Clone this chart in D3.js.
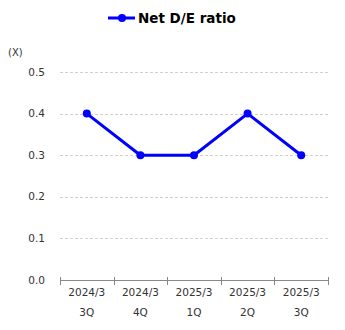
<!DOCTYPE html>
<html><head><meta charset="utf-8">
<script src="https://cdn.jsdelivr.net/npm/d3@7"></script>
<style>body{margin:0;background:#fff}svg{display:block}</style>
</head><body>
<script>
const categoriesTop = ["2024/3","2024/3","2025/3","2025/3","2025/3"];
const categoriesBottom = ["3Q","4Q","1Q","2Q","3Q"];
const netDE = [0.4,0.3,0.3,0.4,0.3];
const yTicks = [0,0.1,0.2,0.3,0.4,0.5];
const seriesName = "Net D/E ratio";
const unitLabel = "(X)";

(function(){
const W=345,H=330;
const svg=d3.select("body").append("svg").attr("width",W).attr("height",H);
const font="DejaVu Sans, Verdana, sans-serif";
const pL=60,pR=328,pT=72,pB=280;
const idx=d3.range(netDE.length);
const x=d3.scaleBand().domain(idx).range([pL,pR]);
const y=d3.scaleLinear().domain([0,0.5]).range([pB,pT]);

svg.append("g").selectAll("line").data(yTicks.filter(d=>d>0)).join("line")
  .attr("x1",pL).attr("x2",pR).attr("y1",d=>Math.round(y(d))+0.5).attr("y2",d=>Math.round(y(d))+0.5)
  .attr("stroke","#d0d0d0").attr("stroke-dasharray","3,2").attr("stroke-width",1);

svg.append("g").selectAll("text").data(yTicks).join("text")
  .attr("x",45).attr("y",d=>y(d)).attr("dy","0.35em").attr("text-anchor","end")
  .attr("font-family",font).attr("font-size","10.5px").attr("fill","#333")
  .text(d=>d.toFixed(1));
svg.append("text").attr("x",8).attr("y",56).attr("font-family",font).attr("font-size","10px").attr("fill","#333").text(unitLabel);

const ax=svg.append("g").attr("transform",`translate(0,${pB})`);
ax.append("line").attr("x1",pL).attr("x2",pR).attr("y1",0.5).attr("y2",0.5).attr("stroke","#888");
const tickX=idx.map(i=>x(i)).concat([pR]);
ax.selectAll("line.t").data(tickX).join("line").attr("class","t")
  .attr("x1",d=>Math.round(d)+0.5).attr("x2",d=>Math.round(d)+0.5).attr("y1",-3).attr("y2",5).attr("stroke","#888");
ax.selectAll("text.a").data(idx).join("text").attr("class","a")
  .attr("x",i=>x(i)+x.bandwidth()/2).attr("y",16).attr("text-anchor","middle")
  .attr("font-family",font).attr("font-size","10.5px").attr("fill","#333").text(i=>categoriesTop[i]);
ax.selectAll("text.b").data(idx).join("text").attr("class","b")
  .attr("x",i=>x(i)+x.bandwidth()/2).attr("y",36).attr("text-anchor","middle")
  .attr("font-family",font).attr("font-size","10.5px").attr("fill","#333").text(i=>categoriesBottom[i]);

const cx=i=>x(i)+x.bandwidth()/2;
svg.append("path").datum(idx).attr("fill","none").attr("stroke","#0000ff").attr("stroke-width",3)
  .attr("stroke-linejoin","round")
  .attr("d",d3.line().x(cx).y(i=>y(netDE[i])));
svg.append("g").selectAll("circle").data(idx).join("circle")
  .attr("cx",cx).attr("cy",i=>y(netDE[i])).attr("r",4).attr("fill","#0000ff");

const lg=svg.append("g");
lg.append("line").attr("x1",108).attr("x2",135).attr("y1",18).attr("y2",18).attr("stroke","#0000ff").attr("stroke-width",3);
lg.append("circle").attr("cx",122).attr("cy",18).attr("r",4).attr("fill","#0000ff");
lg.append("text").attr("x",138).attr("y",18).attr("dy","0.35em").attr("font-family",font).attr("font-weight","bold")
  .attr("font-size","13.5px").attr("fill","#000").text(seriesName);
})();
</script>
</body></html>
